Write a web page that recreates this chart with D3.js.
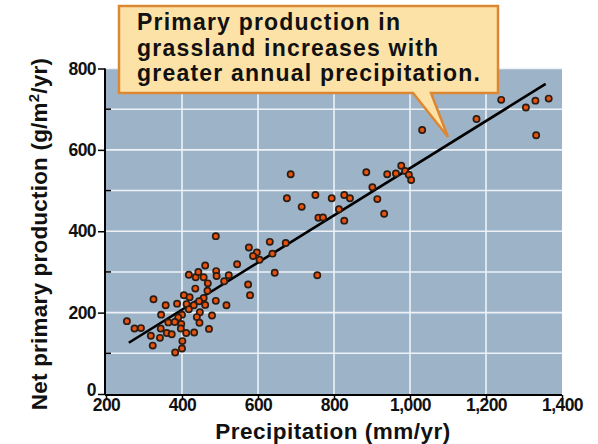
<!DOCTYPE html>
<meta charset="utf-8">
<script src="https://d3js.org/d3.v7.min.js"></script>
<style>
  body { margin: 0; background: #fff; }
  text { font-family: "Liberation Sans", Arial, sans-serif; font-weight: bold; }
</style>
<div id="chart"></div>
<script>

// precipitation (mm/yr) and net primary production (g/m2/yr)
var precip = [1032, 1175, 1240, 1305, 1330, 1365, 1332, 940, 963, 977, 987, 997, 1003, 932, 914,
  686, 885, 901, 676, 751, 715, 794, 827, 842, 813, 827, 759, 771, 631, 673, 576, 597, 587, 604,
  638, 644, 756, 545, 574, 579, 489, 461, 418, 436, 443, 457, 490, 491, 523, 511, 468, 435, 467,
  405, 420, 457, 445, 489, 412, 431, 461, 517, 418, 447, 439, 479, 400, 446, 398, 325, 357, 387,
  345, 390, 255, 275, 292, 344, 364, 381, 397, 411, 360, 373, 318, 342, 401, 323, 400, 382, 432, 471];
var npp = [649, 676, 723, 704, 721, 726, 636, 540, 542, 561, 548, 539, 526, 443, 479,
  540, 545, 508, 481, 489, 460, 481, 489, 481, 454, 426, 433, 434, 374, 371, 360, 348, 339, 330,
  345, 298, 292, 319, 269, 243, 388, 316, 293, 287, 300, 287, 302, 290, 292, 277, 272, 259, 254,
  243, 238, 236, 228, 229, 221, 218, 219, 218, 208, 201, 189, 193, 195, 175, 172, 233, 218, 222,
  195, 188, 179, 161, 162, 161, 176, 177, 161, 150, 150, 147, 143, 138, 130, 119, 112, 102, 151, 160];

// fitted line end points
var fitX = [260, 1357];
var fitY = [126, 762];

var xTicks = [200, 400, 600, 800, 1000, 1200, 1400];
var yTicks = [0, 200, 400, 600, 800];
var yGrid = [100, 200, 300, 400, 500, 600, 700, 800];

var calloutLines = ["Primary production in", "grassland increases with", "greater annual precipitation."];

var width = 598, height = 444;

var svg = d3.select("#chart")
  .append("svg")
    .attr("width", width)
    .attr("height", height);

var x = d3.scaleLinear().domain([200, 1400]).range([106, 562]);
var y = d3.scaleLinear().domain([0, 800]).range([394, 68.5]);

// plot background
svg.append("rect")
  .attr("x", x(200))
  .attr("y", y(800))
  .attr("width", x(1400) - x(200))
  .attr("height", y(0) - y(800))
  .attr("fill", "#9db3c8");

// grid
svg.selectAll(".hgrid")
  .data(yGrid)
  .enter()
  .append("line")
    .attr("x1", x(200))
    .attr("x2", x(1400))
    .attr("y1", function(d) { return y(d); })
    .attr("y2", function(d) { return y(d); })
    .attr("stroke", "#eef2f6")
    .attr("stroke-width", 1.6);

svg.selectAll(".vgrid")
  .data(xTicks.slice(1, -1))
  .enter()
  .append("line")
    .attr("x1", function(d) { return x(d); })
    .attr("x2", function(d) { return x(d); })
    .attr("y1", y(800))
    .attr("y2", y(0))
    .attr("stroke", "#eef2f6")
    .attr("stroke-width", 1.6);

// x axis
var xAxis = svg.append("g")
  .attr("transform", "translate(0," + (y(0) + 1) + ")")
  .call(d3.axisBottom(x)
    .tickValues(xTicks)
    .tickSize(4)
    .tickPadding(0)
    .tickFormat(d3.format(",")));
xAxis.select(".domain").attr("stroke-width", 2).attr("d", "M" + (x(200) - 1) + ",0H" + x(1400));
xAxis.selectAll(".tick line").attr("stroke-width", 1.5);
xAxis.selectAll("text")
  .attr("font-size", 17.5)
  .attr("fill", "#111")
  .attr("font-family", "Liberation Sans, Arial, sans-serif")
  .attr("letter-spacing", "-0.6");

// y axis
var yAxis = svg.append("g")
  .attr("transform", "translate(" + (x(200) - 1) + ",0)")
  .call(d3.axisLeft(y)
    .tickValues(yTicks)
    .tickSize(7)
    .tickPadding(2));
yAxis.select(".domain").attr("stroke-width", 2).attr("d", "M0," + y(800) + "V" + (y(0) + 1));
yAxis.selectAll(".tick line").attr("stroke-width", 1.5);
yAxis.selectAll("text")
  .attr("font-size", 17.5)
  .attr("fill", "#111")
  .attr("font-family", "Liberation Sans, Arial, sans-serif")
  .attr("letter-spacing", "-0.6")
  .attr("dy", function(d) { return d === 0 ? "0.1em" : "0.32em"; });

// minor ticks inside
svg.selectAll(".minor")
  .data([100, 300, 500, 700])
  .enter()
  .append("line")
    .attr("x1", x(200) - 1)
    .attr("x2", x(200) + 5)
    .attr("y1", function(d) { return y(d); })
    .attr("y2", function(d) { return y(d); })
    .attr("stroke", "#000")
    .attr("stroke-width", 1.5);

// fitted line
svg.append("line")
  .attr("x1", x(fitX[0]))
  .attr("y1", y(fitY[0]))
  .attr("x2", x(fitX[1]))
  .attr("y2", y(fitY[1]))
  .attr("stroke", "#000")
  .attr("stroke-width", 2.6);

// points
svg.selectAll(".dot")
  .data(precip)
  .enter()
  .append("circle")
    .attr("cx", function(d) { return x(d); })
    .attr("cy", function(d, i) { return y(npp[i]); })
    .attr("r", 3.1)
    .attr("fill", "#e8520c")
    .attr("stroke", "#2b1d14")
    .attr("stroke-width", 1.7);

// axis titles
svg.append("text")
  .attr("x", 333)
  .attr("y", 438.5)
  .attr("text-anchor", "middle")
  .attr("font-size", 22.5)
  .attr("letter-spacing", "0.5")
  .attr("fill", "#111")
  .text("Precipitation (mm/yr)");

var yt = svg.append("text")
  .attr("transform", "translate(47,234) rotate(-90)")
  .attr("text-anchor", "middle")
  .attr("font-size", 22.5)
  .attr("letter-spacing", "0.2")
  .attr("fill", "#111");
yt.append("tspan").text("Net primary production (g/m");
yt.append("tspan").attr("dy", -8).attr("font-size", 15).text("2");
yt.append("tspan").attr("dy", 8).text("/yr)");

// callout
var bx0 = 119, by0 = 6, bx1 = 498, by1 = 93;
svg.append("path")
  .attr("d", "M" + bx0 + "," + by0 + "H" + bx1 + "V" + by1 + "H431L448,137L413," + by1 + "H" + bx0 + "Z")
  .attr("fill", "#fce2a6")
  .attr("stroke", "#dc8731")
  .attr("stroke-width", 2.5)
  .attr("stroke-linejoin", "miter");

svg.selectAll(".callout")
  .data(calloutLines)
  .enter()
  .append("text")
    .attr("x", 137)
    .attr("y", function(d, i) { return 30 + i * 25.5; })
    .attr("font-size", 23)
    .attr("letter-spacing", "1.2")
    .attr("fill", "#111")
    .text(function(d) { return d; });

</script>
